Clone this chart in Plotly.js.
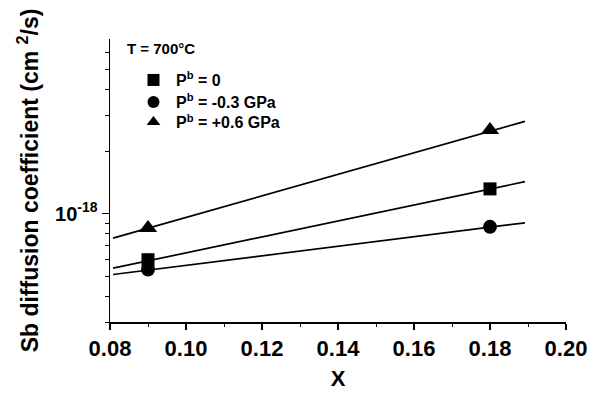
<!DOCTYPE html>
<html>
<head>
<meta charset="utf-8">
<script src="https://cdn.plot.ly/plotly-3.0.1.min.js"></script>
<style>html,body{margin:0;padding:0;background:#fff;}#chart{width:608px;height:396px;}</style>
</head>
<body>
<div id="chart"></div>
<script>
// Measured points
const xPoints = [0.09, 0.18];
const dP0 = [6.0e-19, 1.32e-18];
const dPm03 = [5.38e-19, 8.65e-19];
const dPp06 = [8.55e-19, 2.54e-18];
// Fitted lines (end points)
const xFit = [0.0808, 0.1892];
const fitP0 = [5.46e-19, 1.43e-18];
const fitPm03 = [5.09e-19, 9.05e-19];
const fitPp06 = [7.63e-19, 2.80e-18];
// Labels
const seriesNames = ["P<sup>b</sup> = 0", "P<sup>b</sup> = -0.3 GPa", "P<sup>b</sup> = +0.6 GPa"];
const legendTitle = "T = 700°C";
const xTicks = [0.08, 0.10, 0.12, 0.14, 0.16, 0.18, 0.20];
const xTickText = ["0.08", "0.10", "0.12", "0.14", "0.16", "0.18", "0.20"];
const yTicks = [1e-18];
const yTickText = ["10<sup>-18</sup>"];
const yMinor = [3e-19, 4e-19, 5e-19, 6e-19, 7e-19, 8e-19, 9e-19, 2e-18, 3e-18, 4e-18, 5e-18, 6e-18];

const fam = "Liberation Sans, Arial, sans-serif";
const font = {family: fam, color: "#000", weight: "bold"};
const lineStyle = {color: "#000", width: 1.7};

const traces = [
  {x: xFit, y: fitP0, mode: "lines", line: lineStyle, showlegend: false, hoverinfo: "skip"},
  {x: xFit, y: fitPm03, mode: "lines", line: lineStyle, showlegend: false, hoverinfo: "skip"},
  {x: xFit, y: fitPp06, mode: "lines", line: lineStyle, showlegend: false, hoverinfo: "skip"},
  {x: xPoints, y: dP0, mode: "markers", name: seriesNames[0], legend: "legend", marker: {symbol: "square", size: 13, color: "#000"}},
  {x: xPoints, y: dPm03, mode: "markers", name: seriesNames[1], legend: "legend2", marker: {symbol: "circle", size: 14, color: "#000"}},
  {x: xPoints, y: dPp06, mode: "markers", name: seriesNames[2], legend: "legend3", marker: {symbol: "triangle-up", size: 16, color: "#000"}}
];

function legendAt(yPaper) {
  return {
    x: 0.046, y: yPaper, xanchor: "left", yanchor: "top",
    bgcolor: "rgba(0,0,0,0)",
    font: {family: fam, size: 16, color: "#000", weight: "bold"},
    itemsizing: "constant",
    itemwidth: 35
  };
}

const layout = {
  width: 608, height: 396,
  margin: {l: 110, r: 42, t: 39, b: 74},
  paper_bgcolor: "#fff", plot_bgcolor: "#fff",
  font: font,
  showlegend: true,
  legend: legendAt(0.915),
  legend2: legendAt(0.8375),
  legend3: legendAt(0.7664),
  annotations: [{
    xref: "paper", yref: "paper", x: 0.033, y: 0.968, xanchor: "left", yanchor: "middle",
    text: legendTitle, showarrow: false,
    font: {family: fam, size: 15, color: "#000", weight: "bold"}
  }],
  xaxis: {
    range: [0.08, 0.20],
    tickmode: "array", tickvals: xTicks, ticktext: xTickText,
    ticks: "outside", ticklen: 6, tickwidth: 1.2, tickcolor: "#000",
    minor: {dtick: 0.01, tick0: 0.08, ticks: "outside", ticklen: 3, tickwidth: 1, tickcolor: "#000"},
    showline: true, linecolor: "#000", linewidth: 1.5,
    showgrid: false, zeroline: false,
    tickfont: {family: fam, size: 22, color: "#000", weight: "bold"},
    title: {text: "X", font: {family: fam, size: 22, color: "#000", weight: "bold"}, standoff: 10}
  },
  yaxis: {
    type: "log",
    range: [Math.log10(3e-19), Math.log10(7e-18)],
    tickmode: "array", tickvals: yTicks, ticktext: yTickText,
    ticks: "outside", ticklen: 7, tickwidth: 1.2, tickcolor: "#000",
    minor: {tickmode: "array", tickvals: yMinor, ticks: "outside", ticklen: 4, tickwidth: 1, tickcolor: "#000"},
    showline: true, linecolor: "#000", linewidth: 1.5,
    showgrid: false, zeroline: false,
    tickfont: {family: fam, size: 20, color: "#000", weight: "bold"},
    title: {text: "Sb diffusion coefficient (cm <sup>2</sup>/s)", font: {family: fam, size: 23, color: "#000", weight: "bold"}, standoff: 10}
  }
};

Plotly.newPlot("chart", traces, layout, {displayModeBar: false, staticPlot: true});
</script>
</body>
</html>
